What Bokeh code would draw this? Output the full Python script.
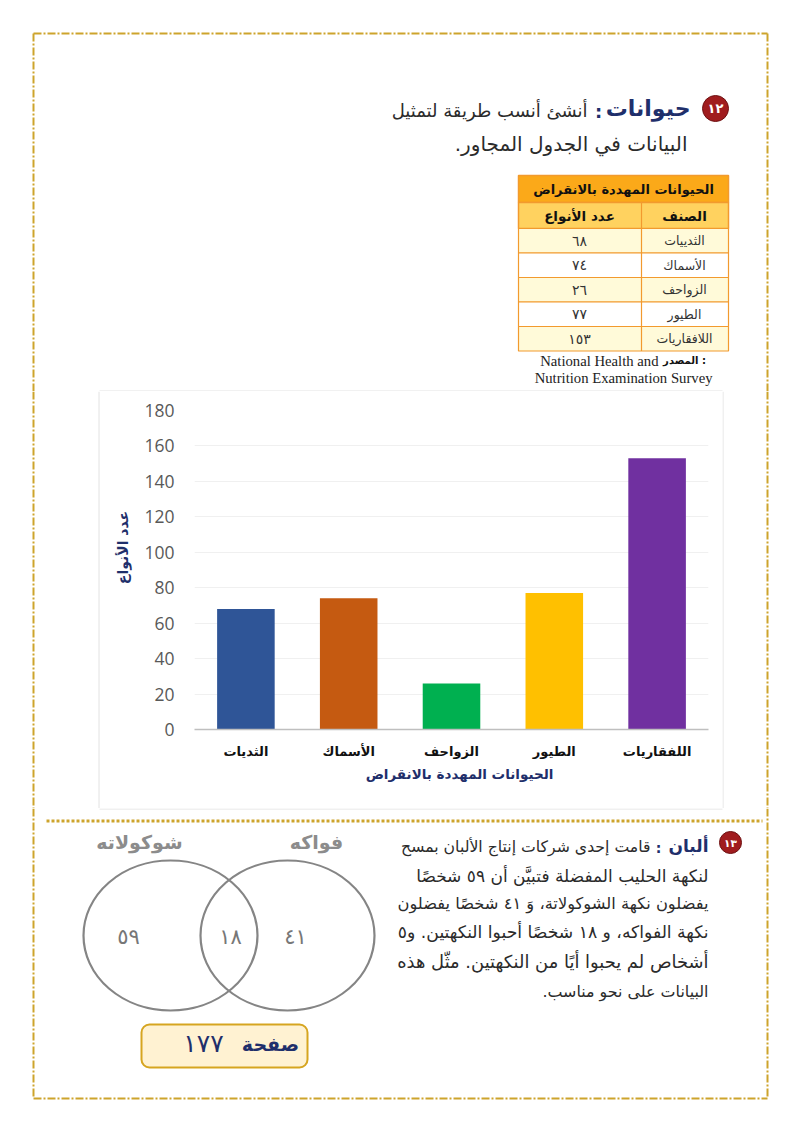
from bokeh.embed import file_html
from bokeh.resources import INLINE
from bokeh.plotting import figure
from bokeh.layouts import column, row
from bokeh.models import BoxAnnotation, FactorRange, Range1d, ColumnDataSource
from bokeh.core.properties import value

AR = "DejaVu Sans"
NAVY = "#1F2F6B"
GOLD = "#CDA42C"
INK = "#2B2B2B"

# chart data
categories = ["الثديات", "الأسماك", "الزواحف", "الطيور", "اللفقاريات"]
species = [68, 74, 26, 77, 153]
bar_colors = ["#2F5597", "#C55A11", "#00B050", "#FFC000", "#7030A0"]
y_title = "عدد الأنواع"
x_title = "الحيوانات المهددة بالانقراض"

# table data
table_title = "الحيوانات المهددة بالانقراض"
table_heads = ["الصنف", "عدد الأنواع"]
table_names = ["الثدييات", "الأسماك", "الزواحف", "الطيور", "اللافقاريات"]
table_counts = ["٦٨", "٧٤", "٢٦", "٧٧", "١٥٣"]

# venn data
venn_names = ["شوكولاته", "فواكه"]
venn_counts = ["٥٩", "١٨", "٤١"]

para_lines = [
    "قامت إحدى شركات إنتاج الألبان بمسح",
    "لنكهة الحليب المفضلة فتبيَّن أن ٥٩ شخصًا",
    "يفضلون نكهة الشوكولاتة، وَ ٤١ شخصًا يفضلون",
    "نكهة الفواكه، و ١٨ شخصًا أحبوا النكهتين. و٥",
    "أشخاص لم يحبوا أيًا من النكهتين. مثّل هذه",
    "البيانات على نحو مناسب.\u200f",
]
para_sizes = [15.7, 17, 16.3, 17.2, 17.9, 15.9]
para_rights = [650, 708, 708, 708, 708, 708]
para_ys = [846, 875, 903, 931, 961, 991]


def page_fig(x0, x1, y0, y1):
    f = figure(width=x1 - x0, height=y1 - y0, x_range=Range1d(x0, x1), y_range=Range1d(y1, y0),
               x_axis_type=None, y_axis_type=None, toolbar_location=None, output_backend="svg",
               min_border=0, outline_line_color=None, frame_align=False)
    f.grid.visible = False
    return f


def txt(f, x, y, s, size, color=INK, bold=False, align="center", font=AR, angle=0):
    f.text([x], [y], text=[s], text_font=value(font), text_font_size=f"{size}px",
           text_color=color, text_align=align, text_baseline="middle",
           text_font_style="bold" if bold else "normal", angle=angle, angle_units="deg")


def badge(f, x, y, r, s, size):
    f.ellipse([x], [y], width=2 * r, height=2 * r, fill_color="#A01C1E", line_color="#6E1112", line_width=1)
    txt(f, x, y, s, size, "#FFFFFF", True)


def border(f, xs, ys):
    f.line(xs, ys, line_color=GOLD, line_width=2, line_dash="8 2 2 2")


# ---------- top block ----------
top = page_fig(0, 792, 0, 391)
border(top, [33, 33], [391, 33])
border(top, [33, 767], [33, 33])
border(top, [767, 767], [33, 391])
top.line([99, 722], [390.5, 390.5], line_color="#E2E2E2", line_width=1)

badge(top, 715, 108, 13, "١٢", 13)
txt(top, 690, 108, "حيوانات", 22, NAVY, True, "right")
txt(top, 598, 111, ":", 18, NAVY, True)
txt(top, 587, 110, "أنشئ أنسب طريقة لتمثيل", 18, INK, False, "right")
txt(top, 687, 143, "البيانات في الجدول المجاور.\u200f", 20, INK, False, "right")

edge = "#F29A2E"
tl, tr, tm = 518, 728, 641
row_edges = [228, 252.5, 277, 301.5, 326, 350.5]
top.quad(left=[tl], right=[tr], top=[175], bottom=[202], fill_color="#FBA919", line_color=edge, line_width=1.5)
top.quad(left=[tl], right=[tr], top=[202], bottom=[228], fill_color="#FFD25F", line_color=edge, line_width=1.5)
for i in range(5):
    top.quad(left=[tl], right=[tr], top=[row_edges[i]], bottom=[row_edges[i + 1]],
             fill_color="#FFFAD9" if i % 2 == 0 else "#FFFFFF", line_color=edge, line_width=1.2)
top.line([tm, tm], [202, 350.5], line_color=edge, line_width=1.2)
txt(top, 623, 189, table_title, 13, "#111111", True)
txt(top, 684, 215, table_heads[0], 13.5, "#111111", True)
txt(top, 579, 215, table_heads[1], 13.5, "#111111", True)
for i in range(5):
    yc = (row_edges[i] + row_edges[i + 1]) / 2
    txt(top, 684, yc, table_names[i], 12.5, "#333333")
    txt(top, 579, yc, table_counts[i], 14, "#333333")
txt(top, 658, 360, "National Health and", 14.7, "#222222", False, "right", "Liberation Serif")
txt(top, 684, 360, "المصدر :", 10, "#111111", True)
txt(top, 712, 377, "Nutrition Examination Survey", 14.7, "#222222", False, "right", "Liberation Serif")

# ---------- chart ----------
left = page_fig(0, 140, 391, 808)
border(left, [33, 33], [391, 808])
left.line([98.5, 98.5], [391, 808], line_color="#E2E2E2", line_width=1)
txt(left, 122, 547, y_title, 14, NAVY, True, angle=90)

right = page_fig(722, 792, 391, 808)
border(right, [767, 767], [391, 808])
right.line([722.5, 722.5], [391, 808], line_color="#E2E2E2", line_width=1)

chart = figure(width=582, height=371, x_range=FactorRange(factors=categories), y_range=Range1d(0, 180),
               toolbar_location=None, output_backend="svg", outline_line_color=None, frame_align=False,
               min_border_left=54, min_border_right=14, min_border_top=19, min_border_bottom=33)
src = ColumnDataSource(dict(c=categories, v=species, col=bar_colors))
chart.vbar(x="c", top="v", width=0.56, color="col", line_color=None, source=src)
chart.xgrid.visible = False
chart.ygrid.grid_line_color = "#F0F0F0"
chart.yaxis.ticker = list(range(0, 181, 20))
chart.yaxis.axis_line_color = None
chart.yaxis.major_tick_line_color = None
chart.yaxis.minor_tick_line_color = None
chart.yaxis.major_label_standoff = 14
chart.yaxis.major_label_text_font = "Open Sans"
chart.yaxis.major_label_text_font_size = "17.5px"
chart.yaxis.major_label_text_color = "#595959"
chart.xaxis.axis_line_color = "#BFBFBF"
chart.xaxis.axis_line_width = 1.5
chart.xaxis.major_tick_line_color = None
chart.xaxis.major_label_standoff = 8
chart.xaxis.major_label_text_font = AR
chart.xaxis.major_label_text_font_style = "bold"
chart.xaxis.major_label_text_font_size = "13px"
chart.xaxis.major_label_text_color = "#111111"

strip = page_fig(140, 722, 762, 808)
txt(strip, 459, 773, x_title, 13.5, NAVY, True)

# ---------- bottom block ----------
bot = page_fig(0, 792, 808, 1123)
border(bot, [33, 33], [808, 1098])
border(bot, [33, 767], [1098, 1098])
border(bot, [767, 767], [808, 1098])
bot.line([99, 722], [808.5, 808.5], line_color="#E2E2E2", line_width=1)
bot.line([46, 762], [820.5, 820.5], line_color=GOLD, line_width=3, line_dash="3 2")

badge(bot, 730, 842, 11, "١٣", 10.5)
txt(bot, 708, 845, "ألبان", 17, NAVY, True, "right")
txt(bot, 658, 847, ":", 14, NAVY, True)
for s, sz, r, y in zip(para_lines, para_sizes, para_rights, para_ys):
    txt(bot, r, y, s, sz, INK, False, "right")

bot.ellipse([170, 287], [935, 935], width=174, height=150, fill_color=None, line_color="#858585", line_width=2.2)
txt(bot, 139, 841, venn_names[0], 19, "#8C8C8C", True)
txt(bot, 316, 841, venn_names[1], 19, "#8C8C8C", True)
for x, s in zip([128, 230, 295], venn_counts):
    txt(bot, x, 936, s, 21, "#777777")

bot.add_layout(BoxAnnotation(left=141, right=307, top=1024, bottom=1067, fill_color="#FFF2D2", fill_alpha=1,
                             line_color="#D6A520", line_alpha=1, line_width=2, border_radius=8, level="underlay"))
txt(bot, 270, 1043, "صفحة", 19, NAVY, True)
txt(bot, 203, 1043, "١٧٧", 25, NAVY)

page = column(top, row(left, column(chart, strip, spacing=0), right, spacing=0), bot, spacing=0)
open("out.html", "w").write(file_html(page, INLINE))
